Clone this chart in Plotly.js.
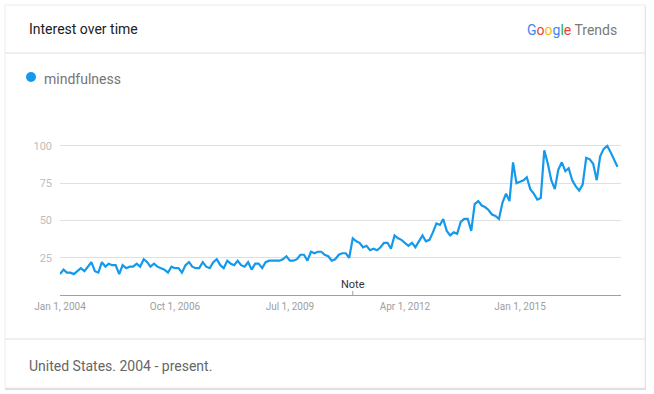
<!DOCTYPE html>
<html>
<head>
<meta charset="utf-8">
<script src="https://cdn.plot.ly/plotly-3.0.1.min.js"></script>
<style>
  html, body { margin: 0; padding: 0; background: #fff; }
  #chart { width: 654px; height: 394px; }
</style>
</head>
<body>
<div id="chart"></div>
<script>
// Monthly search interest for "mindfulness", United States, Jan 2004 onward
const seriesName = 'mindfulness';
const startYear = 2004;
const interest = [
  14, 17, 15, 15, 14, 16, 18, 16, 19, 22, 16, 15,
  22, 19, 21, 20, 20, 14, 20, 18, 19, 19, 21, 19,
  24, 22, 19, 21, 19, 18, 17, 15, 19, 18, 18, 15,
  20, 22, 19, 18, 18, 22, 19, 18, 22, 24, 20, 18,
  23, 21, 20, 23, 20, 19, 22, 17, 21, 21, 18, 22,
  23, 23, 23, 23, 24, 26, 23, 23, 24, 27, 27, 23,
  29, 28, 29, 29, 27, 26, 23, 24, 27, 28, 28, 25,
  38, 36, 35, 32, 33, 30, 31, 30, 32, 35, 35, 31,
  40, 38, 37, 35, 33, 35, 32, 36, 40, 36, 37, 42,
  48, 47, 51, 43, 40, 42, 41, 49, 51, 51, 43, 61,
  63, 60, 59, 57, 54, 53, 51, 62, 68, 63, 89, 75,
  76, 77, 79, 71, 68, 64, 65, 97, 88, 77, 71, 84,
  89, 83, 85, 77, 73, 70, 74, 92, 91, 88, 77, 93,
  98, 100, 96, 91, 86
];

// Month-start dates for each value
const months = interest.map((_, i) => {
  const y = startYear + Math.floor(i / 12);
  const m = (i % 12) + 1;
  return y + '-' + String(m).padStart(2, '0') + '-01';
});

const xTickVals = ['2004-01-01', '2006-10-01', '2009-07-01', '2012-04-01', '2015-01-01'];
const xTickText = ['Jan 1, 2004', 'Oct 1, 2006', 'Jul 1, 2009', 'Apr 1, 2012', 'Jan 1, 2015'];
const yTickVals = [25, 50, 75, 100];
const noteDate = '2011-01-01';

const W = 654, H = 394;
const M = { l: 60, r: 33, t: 131, b: 99 };
const plotW = W - M.l - M.r, plotH = H - M.t - M.b;
// pixel position -> paper coordinates
const pxX = x => (x - M.l) / plotW;
const pxY = y => (H - M.b - y) / plotH;

const lineColor = '#1499ec';
const font = 'Roboto, "Open Sans", Arial, sans-serif';

const logo =
  '<span style="color:#4285F4">G</span>' +
  '<span style="color:#EA4335">o</span>' +
  '<span style="color:#FBBC05">o</span>' +
  '<span style="color:#4285F4">g</span>' +
  '<span style="color:#34A853">l</span>' +
  '<span style="color:#EA4335">e</span>' +
  '<span style="color:#7a7a7a"> Trends</span>';

const trace = {
  x: months,
  y: interest,
  type: 'scatter',
  mode: 'lines',
  name: seriesName,
  line: { color: lineColor, width: 2.2 },
  hoverinfo: 'x+y'
};

const layout = {
  width: W,
  height: H,
  margin: M,
  paper_bgcolor: '#ffffff',
  plot_bgcolor: 'rgba(0,0,0,0)',
  showlegend: false,
  font: { family: font },
  xaxis: {
    type: 'date',
    range: ['2004-01-01', '2017-06-01'],
    tickvals: xTickVals,
    ticktext: xTickText,
    tickfont: { size: 10, color: '#9e9e9e', family: font },
    showgrid: false,
    zeroline: false,
    showline: true,
    linecolor: '#a0a0a0',
    linewidth: 1,
    ticks: '',
    ticklabelstandoff: 2,
    fixedrange: true
  },
  yaxis: {
    range: [0, 110],
    tickvals: yTickVals,
    tickfont: { size: 11, color: '#bdbdbd', family: font },
    showgrid: true,
    gridcolor: '#e0e0e0',
    gridwidth: 1,
    zeroline: false,
    showline: false,
    ticks: '',
    ticklabelstandoff: 7,
    fixedrange: true
  },
  shapes: [
    // card shadow and card
    { type: 'rect', xref: 'paper', yref: 'paper', layer: 'below',
      x0: pxX(5), x1: pxX(646), y0: pxY(6), y1: pxY(390),
      fillcolor: '#dcdcdc', line: { width: 0 } },
    { type: 'rect', xref: 'paper', yref: 'paper', layer: 'below',
      x0: pxX(5), x1: pxX(645), y0: pxY(5), y1: pxY(388),
      fillcolor: '#ffffff', line: { color: '#ececec', width: 1 } },
    // header and footer separators
    { type: 'line', xref: 'paper', yref: 'paper', layer: 'below',
      x0: pxX(5), x1: pxX(645), y0: pxY(53), y1: pxY(53),
      line: { color: '#e0e0e0', width: 1 } },
    { type: 'line', xref: 'paper', yref: 'paper', layer: 'below',
      x0: pxX(5), x1: pxX(645), y0: pxY(339), y1: pxY(339),
      line: { color: '#e0e0e0', width: 1 } },
    // legend marker
    { type: 'circle', xref: 'paper', yref: 'paper',
      x0: pxX(26), x1: pxX(36), y0: pxY(72), y1: pxY(82),
      fillcolor: lineColor, line: { width: 0 } },
    // note tick on the time axis
    { type: 'line', xref: 'x', yref: 'paper',
      x0: noteDate, x1: noteDate, y0: 0, y1: pxY(291),
      line: { color: '#a0a0a0', width: 1 } }
  ],
  annotations: [
    { text: 'Interest over time', xref: 'paper', yref: 'paper',
      x: pxX(27), y: pxY(29), xanchor: 'left', yanchor: 'middle',
      showarrow: false, font: { size: 14, color: '#212121', family: font } },
    { text: logo, xref: 'paper', yref: 'paper',
      x: pxX(619), y: pxY(30), xanchor: 'right', yanchor: 'middle',
      showarrow: false, font: { size: 14, family: font } },
    { text: seriesName, xref: 'paper', yref: 'paper',
      x: pxX(42), y: pxY(79), xanchor: 'left', yanchor: 'middle',
      showarrow: false, font: { size: 14, color: '#757575', family: font } },
    { text: 'Note', xref: 'x', yref: 'paper',
      x: noteDate, y: pxY(284), xanchor: 'center', yanchor: 'middle',
      showarrow: false, font: { size: 11, color: '#333333', family: font } },
    { text: 'United States. 2004 - present.', xref: 'paper', yref: 'paper',
      x: pxX(27), y: pxY(366), xanchor: 'left', yanchor: 'middle',
      showarrow: false, font: { size: 14, color: '#666666', family: font } }
  ]
};

Plotly.newPlot('chart', [trace], layout, { displayModeBar: false, staticPlot: true });
</script>
</body>
</html>
